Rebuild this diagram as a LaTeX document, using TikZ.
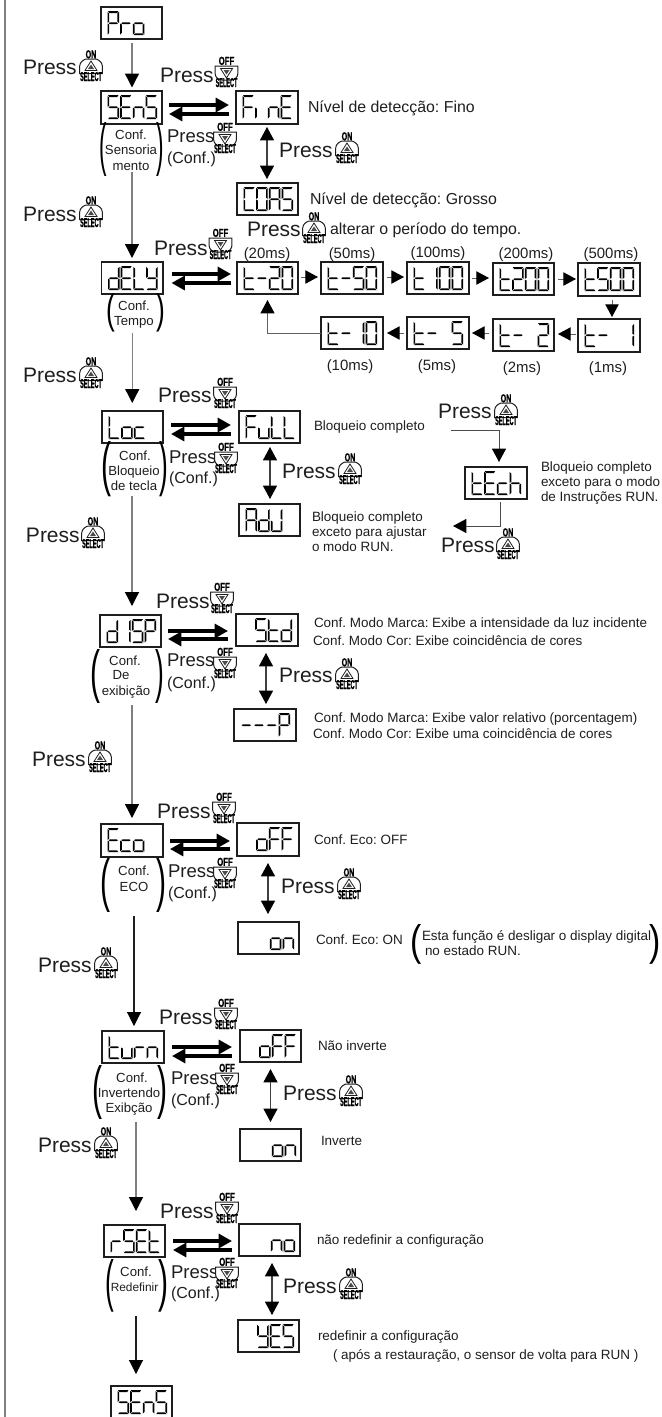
\documentclass[tikz,border=0pt]{standalone}
\usepackage{fontspec}
\setmainfont{Liberation Sans}
\newfontfamily\btnfont[BoldFont={Liberation Sans Bold},BoldFeatures={FakeBold=1.5}]{Liberation Sans}
\usetikzlibrary{arrows.meta,calc}
\newdimen\px \px=.75pt
\definecolor{ink}{HTML}{1E1E1E}
\definecolor{flowgray}{HTML}{7F7F7F}
\def\fpress{\fontsize{15.75}{18}\selectfont}
\def\fpresss{\fontsize{13.9}{16}\selectfont}
\def\fconf{\fontsize{12}{14}\selectfont}
\def\fbig{\fontsize{11.9}{14}\selectfont}
\def\fms{\fontsize{11.2}{14}\selectfont}
\def\fcap{\fontsize{10.1}{12}\selectfont}
\def\fpar{\fontsize{10.1}{12}\selectfont}
\tikzset{
  lcdbox/.style={draw=ink,fill=white,line width=.8pt,inner sep=0pt,outer sep=0pt},
  lcdseg/.style={fill=black},
  flow/.style={draw=flowgray,line width=1pt,-{Triangle[length=10.5pt,width=10.5pt,black]}},
  flowblack/.style={flow,draw=ink,line width=.8pt},
  thickarrow/.style={draw=black,line width=2.3pt,-{Triangle[length=10pt,width=10.5pt]}},
  biarrow/.style={draw=ink!85,line width=.8pt,{Triangle[length=10pt,width=10.5pt,black]}-{Triangle[length=10pt,width=10.5pt,black]}},
  small/.style={draw=ink!70,line width=.75pt,-{Triangle[length=9.5pt,width=10pt,black]}},
  thin/.style={draw=ink!80,line width=.75pt,-{Triangle[length=10pt,width=10.5pt,black]}},
  txt/.style={inner sep=0pt,outer sep=0pt,text=ink,anchor=base west},
  txtc/.style={inner sep=0pt,outer sep=0pt,text=ink,anchor=base},
  btnbody/.style={draw=ink,fill=white,line width=.75pt},
  btnmark/.style={draw=ink,fill=white,line width=.6pt},
  btninner/.style={fill=ink!80},
  btntxt/.style={inner sep=0pt,outer sep=0pt,text=black,anchor=base},
}
% tapered segments of an 11.5x24 glyph
\def\sgA{(.6,0)--(10.9,0)--(9.6,1.9)--(1.9,1.9)--cycle}
\def\sgD{(.6,24)--(10.9,24)--(9.6,22.1)--(1.9,22.1)--cycle}
\def\sgF{(0,.7)--(1.7,2.4)--(1.7,10.6)--(0,11.6)--cycle}
\def\sgE{(0,12.4)--(1.7,13.4)--(1.7,21.6)--(0,23.3)--cycle}
\def\sgB{(11.5,.7)--(9.8,2.4)--(9.8,10.6)--(11.5,11.6)--cycle}
\def\sgC{(11.5,12.4)--(9.8,13.4)--(9.8,21.6)--(11.5,23.3)--cycle}
\def\sgG{(1,12)--(2.5,11.1)--(9,11.1)--(10.5,12)--(9,12.9)--(2.5,12.9)--cycle}
\def\sgZ{(0,0)}
\def\glyphS{A,F,G,C,D}\def\glyphE{A,F,G,E,D}\def\glyphn{E,G,C}\def\glyphr{E,G}
\def\glypho{E,G,C,D}\def\glyphP{A,B,E,F,G}\def\glyphC{A,F,E,D}\def\glyphO{A,B,C,D,E,F}
\def\glyphA{A,B,C,E,F,G}\def\glyphd{B,C,D,E,G}\def\glyphL{F,E,D}\def\glyphY{F,B,G,C,D}
\def\glypht{F,E,D,G}\def\glyphtwo{A,B,G,E,D}\def\glyphc{G,E,D}\def\glyphh{F,E,G,C}
\def\glyphF{A,F,G,E}\def\glyphu{E,D,C}\def\glyphJ{B,C,D,E}\def\glyphI{B,C}
\def\glyphi{E}\def\glyphdash{G}\def\glyphblank{Z}
\newcommand\lcdchar[3]{%
  \edef\seglist{\csname glyph#3\endcsname}%
  \begin{scope}[shift={(#1,#2)}]
    \foreach \sgn in \seglist {\path[lcdseg] \csname sg\sgn\endcsname;}
  \end{scope}}
% \lcd{name}{x0}{y0}{x1}{y1}{c1}{c2}{c3}{c4}
\newcommand\lcd[9]{%
  \node[lcdbox,minimum width={(#4-#2)*\px},minimum height={(#5-#3)*\px}] (#1) at ({(#2+#4)/2},{(#3+#5)/2}) {};
  \lcdchar{#2+6.5}{#3+4.2}{#6}\lcdchar{#2+19.2}{#3+4.2}{#7}\lcdchar{#2+31.9}{#3+4.2}{#8}\lcdchar{#2+44.6}{#3+4.2}{#9}}
\newcommand\pressword[4]{\node[txt] (#1) at (#2,#3) {#4Press};}
\newcommand\pressON[5]{%
  \pressword{#1}{#2}{#3}{\fpress}%
  \begin{scope}[shift={(#4,#5)}]
    \path[btnbody] (-11.3,23.5) -- (-11.3,16) .. controls (-11.3,12) and (-7,9.5) .. (-5,9) -- (5,9) .. controls (7,9.5) and (11.3,12) .. (11.3,16) -- (11.3,23.5) -- cycle;
    \path[btnmark] (-6,20.5) -- (6,20.5) -- (0,11) -- cycle;
    \path[btninner] (-3,19) -- (3,19) -- (0,14.5) -- cycle;
    \node[btntxt] (#1-top) at (0,8.3) {\scalebox{.62}[1]{\btnfont\fontsize{8.6}{9}\selectfont\bfseries ON}};
    \node[btntxt] (#1-sel) at (0,31) {\scalebox{.43}[1]{\btnfont\fontsize{9.6}{10}\selectfont\bfseries SELECT}};
  \end{scope}}
\newcommand\pressOFF[6][\fpress]{%
  \pressword{#2}{#3}{#4}{#1}%
  \begin{scope}[shift={(#5,#6)}]
    \path[btnbody] (-11.3,10) -- (11.3,10) -- (11.3,18) .. controls (11.3,21) and (8,24) .. (5,24) -- (-5,24) .. controls (-8,24) and (-11.3,21) .. (-11.3,18) -- cycle;
    \path[btnmark] (-6,12.5) -- (6,12.5) -- (0,22) -- cycle;
    \path[btninner] (-3,14) -- (3,14) -- (0,18.5) -- cycle;
    \node[btntxt] (#2-top) at (0,8.8) {\scalebox{.68}[1]{\btnfont\fontsize{8.6}{9}\selectfont\bfseries OFF}};
    \node[btntxt] (#2-sel) at (0,31) {\scalebox{.43}[1]{\btnfont\fontsize{9.6}{10}\selectfont\bfseries SELECT}};
  \end{scope}}
\newcommand\brk[6]{\node[inner sep=0pt,outer sep=0pt,text=black] (#1) at ({(#2+#4)/2},{(#3+#5)/2}) {\resizebox{1.25\dimexpr #4\px-#2\px\relax}{\dimexpr #5\px-#3\px\relax}{#6}};}
\newcommand\cf[4]{\node[txtc] (#1) at (#2,#3) {\fontsize{9.9}{12}\selectfont #4};}
\newcommand\vconn[6][flow]{\draw[#1,shorten <=#5\px,shorten >=#6\px] ([xshift=#4\px]#2.south) -- ([xshift=#4\px]#2.south |- #3.north);}
\newcommand\dblconn[6]{%
  \draw[thickarrow,shorten <=#5\px,shorten >=#6\px] ([yshift=#3\px]#1.east) -- ([yshift=#3\px]#1.east -| #2.west);
  \draw[thickarrow,shorten <=#6\px,shorten >=#5\px] ([yshift=#4\px]#1.east -| #2.west) -- ([yshift=#4\px]#1.east);}
\newcommand\biconn[5]{\draw[biarrow,shorten <=#4\px,shorten >=#5\px] ([xshift=#3\px]#1.south) -- ([xshift=#3\px]#1.south |- #2.north);}
\newcommand\rconn[5]{\draw[small,shorten <=#4\px,shorten >=#5\px] ([yshift=#3\px]#1.east) -- ([yshift=#3\px]#1.east -| #2.west);}
\newcommand\lconn[5]{\draw[small,shorten <=#4\px,shorten >=#5\px] ([yshift=#3\px]#1.west) -- ([yshift=#3\px]#1.west -| #2.east);}
\begin{document}
\frenchspacing
\begin{tikzpicture}[x=.75pt,y=-.75pt]
\useasboundingbox (0,0) rectangle (661,1417);
\coordinate (railtop) at (5,0); \coordinate (railbot) at (5,1417);
\draw[flowgray,line width=1.1pt] (railtop) -- (railbot);
% displays
\lcd{Pro}{101}{7}{162}{39}{P}{r}{o}{blank}
\lcd{SEnS}{101}{91}{162}{124}{S}{E}{n}{S}
\lcd{FinE}{236}{91}{298}{124}{F}{i}{n}{E}
\lcd{COAS}{237}{183}{298}{215}{C}{O}{A}{S}
\lcd{dELY}{101.5}{262}{163}{294}{d}{E}{L}{Y}
\lcd{tA}{237}{262}{298}{294}{t}{dash}{two}{O}
\lcd{tB}{321}{262}{383}{294}{t}{dash}{S}{O}
\lcd{tC}{407}{262}{469}{294}{t}{I}{O}{O}
\lcd{tD}{493}{263}{554}{295}{t}{two}{O}{O}
\lcd{tE}{578}{263}{640}{296}{t}{S}{O}{O}
\lcd{tF}{578}{319}{640}{352}{t}{dash}{blank}{I}
\lcd{tG}{493}{319}{554}{351}{t}{dash}{blank}{two}
\lcd{tH}{407}{317}{469}{349}{t}{dash}{blank}{S}
\lcd{tJ}{321}{317}{383}{349}{t}{dash}{I}{O}
\lcd{Loc}{102}{411}{163}{443}{L}{o}{c}{blank}
\lcd{Full}{239}{411}{300}{443}{F}{u}{L}{L}
\lcd{AdJ}{239}{504}{300}{536}{A}{d}{J}{blank}
\lcd{tEch}{465}{467}{527}{499}{t}{E}{c}{h}
\lcd{dSP}{100}{615}{161}{647}{d}{I}{S}{P}
\lcd{Std}{236}{614}{298}{646}{blank}{S}{t}{d}
\lcd{Pct}{234}{709}{296}{741}{dash}{dash}{dash}{P}
\lcd{Eco}{101}{824}{163}{857}{E}{c}{o}{blank}
\lcd{oFFa}{237}{823}{299}{856}{blank}{o}{F}{F}
\lcd{ona}{238}{922}{299}{954}{blank}{blank}{o}{n}
\lcd{turn}{102}{1031}{164}{1063}{t}{u}{r}{n}
\lcd{oFFb}{240}{1030}{301}{1062}{blank}{o}{F}{F}
\lcd{onb}{240}{1129}{301}{1161}{blank}{blank}{o}{n}
\lcd{rSEt}{104}{1225}{165}{1257}{r}{S}{E}{t}
\lcd{no}{239}{1224}{300}{1256}{blank}{blank}{n}{o}
\lcd{YES}{238}{1320}{299}{1352}{blank}{Y}{E}{S}
\lcd{SEnSb}{111}{1386}{172}{1418}{S}{E}{n}{S}
% main flow
\vconn{Pro}{SEnS}{.5}{4}{3.5}
\vconn{SEnS}{dELY}{.5}{48}{4}
\vconn{dELY}{Loc}{0}{39}{8}
\vconn{Loc}{dSP}{-.5}{53}{9}
\vconn{dSP}{Eco}{1.5}{58}{6}
\vconn[flowblack]{Eco}{turn}{2}{59}{5}
\vconn{turn}{rSEt}{3}{59}{14}
\vconn[flowblack]{rSEt}{SEnSb}{1.5}{59}{12}
% double arrows
\dblconn{SEnS}{FinE}{2.5}{-6.5}{7}{7}
\dblconn{dELY}{tA}{4}{-5}{8.5}{6}
\dblconn{Loc}{Full}{2}{-7}{8}{8}
\dblconn{dSP}{Std}{0}{-8}{7}{8}
\dblconn{Eco}{oFFa}{-.5}{-8.5}{7}{7}
\dblconn{turn}{oFFb}{0}{-9}{8}{8}
\dblconn{rSEt}{no}{0}{-9}{8}{7}
% vertical bidirectional
\biconn{FinE}{COAS}{0}{3}{4}
\biconn{Full}{AdJ}{.5}{4}{5}
\biconn{Std}{Pct}{-1}{7}{5}
\biconn{oFFa}{ona}{0}{7}{8}
\biconn{oFFb}{onb}{0}{7}{7}
\biconn{no}{YES}{2.5}{7}{5}
% time chain
\rconn{tA}{tB}{1}{3}{3}
\rconn{tB}{tC}{1}{4}{3}
\rconn{tC}{tD}{0}{3}{4}
\rconn{tD}{tE}{0}{4}{2}
\draw[small,shorten <=4\px,shorten >=2\px] ([xshift=3\px]tE.south) -- ([xshift=3\px]tE.south |- tF.north);
\lconn{tF}{tG}{1.5}{2}{4}
\lconn{tG}{tH}{2}{4}{3}
\lconn{tH}{tJ}{0}{3}{4}
\draw[thin,draw=ink!70,shorten >=6\px] (tJ.west) -| (tA.south);
% lock branch
\coordinate (lockin) at (451,430);
\coordinate (lockout) at (453,526);
\draw[thin,shorten >=5\px] (lockin) -| ([xshift=3\px]tEch.north);
\draw[thin,shorten <=3\px] ([xshift=4\px]tEch.south) |- (lockout);
% Press ON main
\pressON{pa}{23}{74}{91}{50}
\pressON{pb}{23}{221}{91}{196}
\pressON{pc}{23}{382}{91}{357}
\pressON{pd}{26}{542}{93}{517}
\pressON{pe}{32}{766}{100}{741}
\pressON{pf}{38}{972}{106}{947}
\pressON{pg}{38}{1152}{106}{1127}
% Press OFF upper
\pressOFF{qa}{160}{82}{226.5}{56}
\pressOFF{qb}{154}{255}{220.5}{228}
\pressOFF{qc}{158}{402}{225}{377}
\pressOFF{qd}{156}{608}{222}{582}
\pressOFF{qe}{157}{818}{224}{792}
\pressOFF{qf}{159}{1024}{226}{998}
\pressOFF{qg}{160}{1218}{227}{1192}
% Press OFF (Conf.)
\pressOFF[\fpresss]{sa}{167}{142}{225}{122}
\pressOFF[\fpresss]{sb}{169}{463}{226}{442}
\pressOFF[\fpresss]{sc}{167}{666}{225}{647}
\pressOFF[\fpresss]{sd}{168}{877}{225}{857}
\pressOFF[\fpresss]{se}{171}{1084}{227}{1063}
\pressOFF[\fpresss]{sf}{171}{1278}{227}{1257}
\node[txt] (ca) at (167,163) {\fconf (Conf.)};
\node[txt] (cb) at (169,483) {\fconf (Conf.)};
\node[txt] (cc) at (167,688) {\fconf (Conf.)};
\node[txt] (cd) at (168,898) {\fconf (Conf.)};
\node[txt] (ce) at (171,1105) {\fconf (Conf.)};
\node[txt] (cf) at (171,1298) {\fconf (Conf.)};
% Press ON right
\pressON{ra}{279}{157}{347}{132}
\pressON{rb}{247}{236}{314}{212}
\pressON{rc}{282}{478}{350}{453}
\pressON{rd}{279}{682}{347}{658}
\pressON{re}{281}{893}{349}{868}
\pressON{rf}{283}{1100}{351}{1075}
\pressON{rg}{283}{1293}{351}{1268}
\pressON{ua}{438}{418}{506}{394}
\pressON{ub}{441}{552}{508}{528}
% bracketed labels
\brk{la}{100}{128}{106}{170}{(}\brk{ra1}{157}{128}{163}{170}{)}
\cf{l1a}{131}{139}{Conf.}\cf{l1b}{131}{154}{Sensoria}\cf{l1c}{131}{170}{mento}
\brk{lb}{107}{298}{114}{328}{(}\brk{rb1}{157}{298}{164}{328}{)}
\cf{l2a}{134}{310}{Conf.}\cf{l2b}{134}{325}{Tempo}
\brk{lc}{102}{448}{110}{491}{(}\brk{rc1}{160}{448}{167}{491}{)}
\cf{l3a}{135}{460}{Conf.}\cf{l3b}{134}{475}{Bloqueio}\cf{l3c}{134}{490}{de tecla}
\brk{ld}{91}{655}{99}{697}{(}\brk{rd1}{156}{655}{163}{697}{)}
\cf{l4a}{125}{665}{Conf.}\cf{l4b}{121}{679}{De}\cf{l4c}{126}{695}{exibição}
\brk{le}{101}{864}{109}{906}{(}\brk{re1}{157}{864}{165}{906}{)}
\cf{l5a}{134}{875}{Conf.}\cf{l5b}{134}{891}{ECO}
\brk{lf}{93}{1071}{101}{1113}{(}\brk{rf1}{158}{1071}{166}{1113}{)}
\cf{l6a}{132}{1082}{Conf.}\cf{l6b}{129}{1097}{Invertendo}\cf{l6c}{129}{1112}{Exibção}
\brk{lg}{106}{1265}{113}{1306}{(}\brk{rg1}{159}{1265}{167}{1306}{)}
\cf{l7a}{136}{1276}{Conf.}\node[txtc] (l7b) at (134.5,1291) {\fontsize{8.9}{12}\selectfont Redefinir};
% ms labels
\node[txtc] (m1) at (267,258) {\fms (20ms)};
\node[txtc] (m2) at (352,258) {\fms (50ms)};
\node[txtc] (m3) at (438,257) {\fms (100ms)};
\node[txtc] (m4) at (526,258) {\fms (200ms)};
\node[txtc] (m5) at (611,258) {\fms (500ms)};
\node[txtc] (m6) at (350,370) {\fms (10ms)};
\node[txtc] (m7) at (437,370) {\fms (5ms)};
\node[txtc] (m8) at (522,372) {\fms (2ms)};
\node[txtc] (m9) at (608,372) {\fms (1ms)};
% captions
\node[txt] (t1) at (308,112) {\fbig Nível de detecção: Fino};
\node[txt] (t2) at (310,204) {\fbig Nível de detecção: Grosso};
\node[txt] (t3) at (330,234) {\fbig alterar o período do tempo.};
\node[txt] (t4) at (314,430) {\fcap Bloqueio completo};
\node[txt] (t5) at (312,521) {\fcap Bloqueio completo};
\node[txt] (t6) at (312,536) {\fcap exceto para ajustar};
\node[txt] (t7) at (312,551) {\fcap o modo RUN.};
\node[txt] (t8) at (541,471) {\fcap Bloqueio completo};
\node[txt] (t9) at (541,486) {\fcap exceto para o modo};
\node[txt] (t10) at (541,501) {\fcap de Instruções RUN.};
\node[txt] (t11) at (314,627) {\fcap Conf. Modo Marca: Exibe a intensidade da luz incidente};
\node[txt] (t12) at (313,645) {\fcap Conf. Modo Cor: Exibe coincidência de cores};
\node[txt] (t13) at (314,722) {\fcap Conf. Modo Marca: Exibe valor relativo (porcentagem)};
\node[txt] (t14) at (313,738) {\fcap Conf. Modo Cor: Exibe uma coincidência de cores};
\node[txt] (t15) at (314,844) {\fcap Conf. Eco: OFF};
\node[txt] (t16) at (316,944) {\fcap Conf. Eco: ON};
\brk{lh}{412}{929}{421}{960}{(}\brk{rh}{651}{929}{660}{960}{)}
\node[txt] (t17) at (422,940) {\fpar Esta função é desligar o display digital};
\node[txt] (t18) at (425,955) {\fpar no estado RUN.};
\node[txt] (t19) at (318,1050) {\fcap Não inverte};
\node[txt] (t20) at (321,1145) {\fcap Inverte};
\node[txt] (t21) at (317,1244) {\fcap não redefinir a configuração};
\node[txt] (t22) at (318,1340) {\fcap redefinir a configuração};
\node[txt] (t23) at (333,1359) {\fcap ( após a restauração, o sensor de volta para RUN )};
\end{tikzpicture}
\end{document}
